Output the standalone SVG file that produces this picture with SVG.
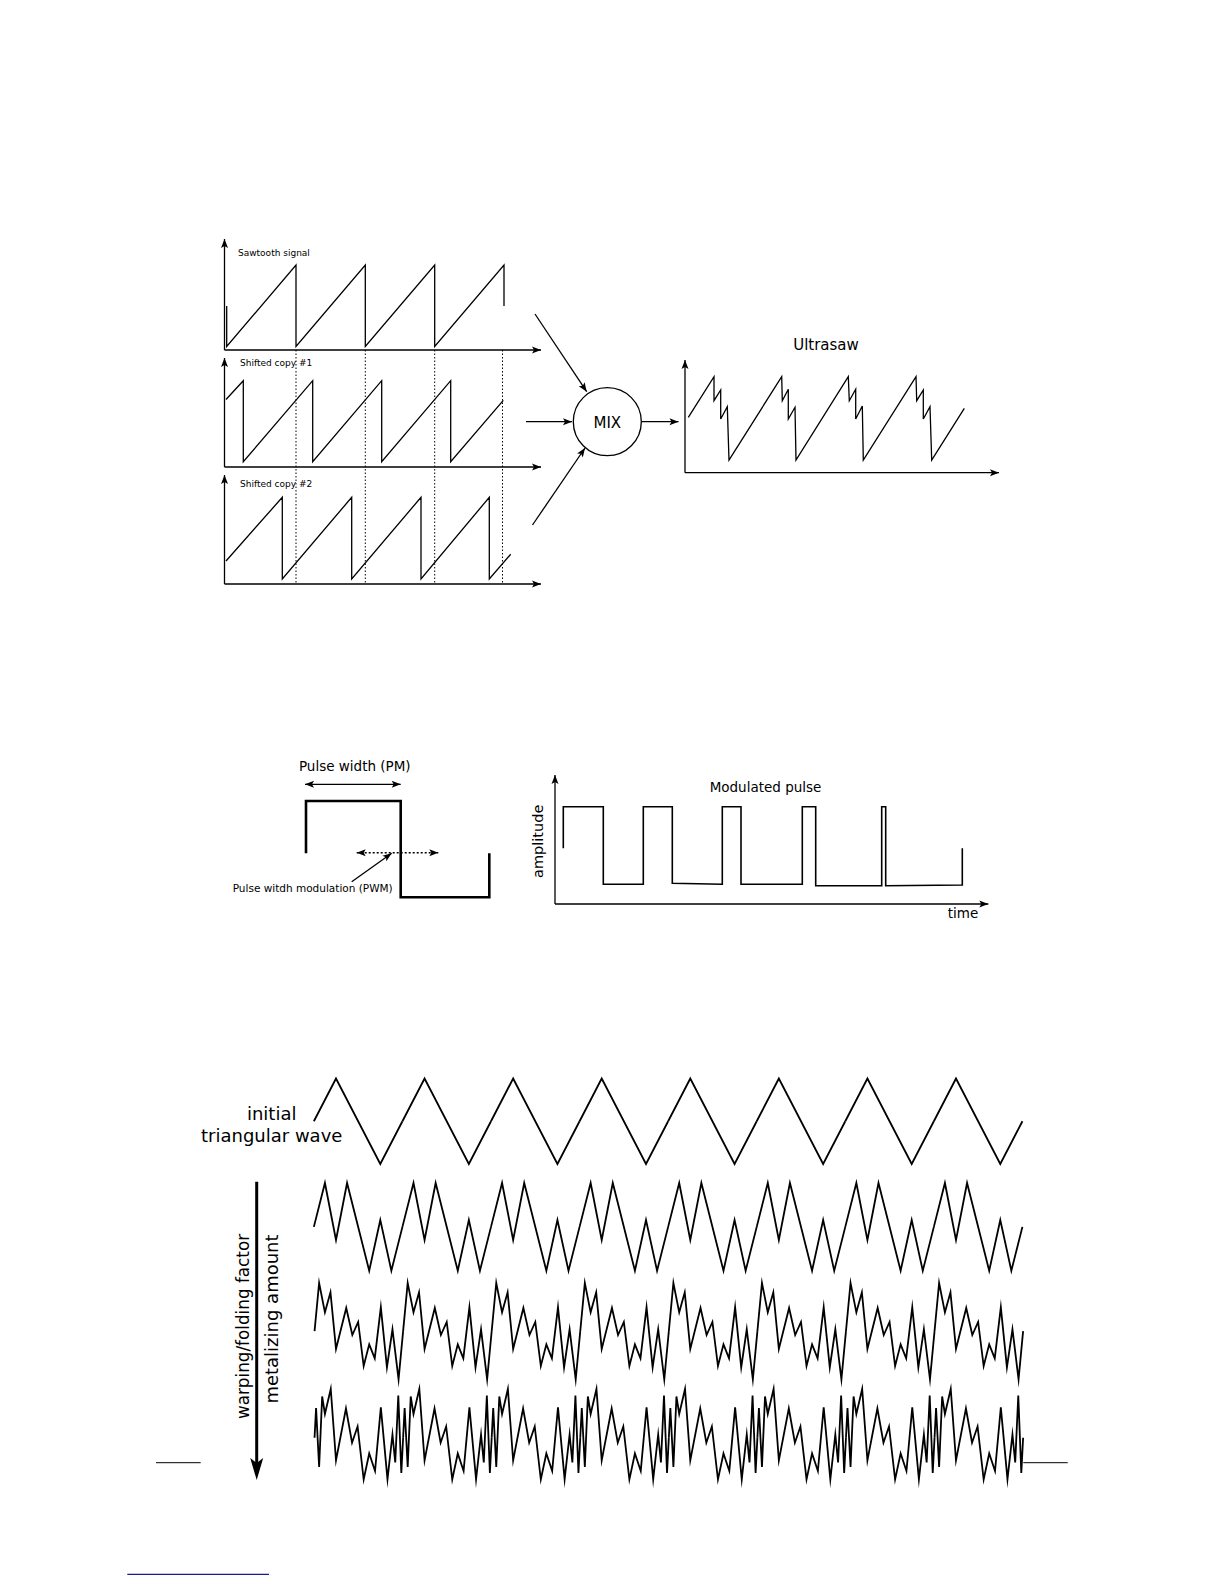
<svg xmlns="http://www.w3.org/2000/svg" width="1224" height="1584" viewBox="0 0 1224 1584">
<style>
 .ln{fill:none;stroke:#000;stroke-width:1.3;stroke-linejoin:miter}
 .ax{fill:none;stroke:#000;stroke-width:1.3;marker-end:url(#ah)}
 .arr{fill:none;stroke:#000;stroke-width:1.3;marker-end:url(#ah)}
 .dot{fill:none;stroke:#000;stroke-width:1;stroke-dasharray:1.5 2}
 .t{font-family:"DejaVu Sans","Liberation Sans",sans-serif;fill:#000}
 .wave{fill:none;stroke:#000;stroke-width:1.8;stroke-linejoin:miter;stroke-miterlimit:10}
</style>
<defs>
 <marker id="ah" viewBox="-10 -5 11 10" refX="0" refY="0" markerWidth="11" markerHeight="10" markerUnits="userSpaceOnUse" orient="auto-start-reverse">
  <path d="M0,0 L-9,-3.5 L-7,0 L-9,3.5 Z" fill="#000"/>
 </marker>
 <marker id="big" viewBox="-24 -8 26 16" refX="-14" refY="0" markerWidth="26" markerHeight="16" markerUnits="userSpaceOnUse" orient="auto">
  <path d="M0,0 L-22,-6.5 L-17,0 L-22,6.5 Z" fill="#000"/>
 </marker>
 <path id="r1" d="M-22.14,1121.25 L0,1078.5 L44.29,1164 L66.43,1121.25"/>
 <path id="r2" d="M-22.14,1226.85 L-11.07,1183 L0,1240 L11.07,1183 L33.21,1270.7 L44.29,1220 L55.36,1270.7 L66.43,1226.85"/>
 <path id="r3" d="M-21.45,1331.15 L-16.88,1283 L-11.07,1312.3 L-5.53,1292.3 L0,1349 L10.24,1308 L16.33,1335 L22.14,1322 L27.68,1366 L33.21,1344.3 L38.75,1358.3 L44.84,1307.3 L50.93,1367.3 L56.47,1329.3 L62.56,1379.3 L67.12,1331.15"/>
 <path id="r4" d="M-21.45,1437.8 L-19.93,1408 L-16.88,1467 L-13.84,1396.5 L-11.07,1414 L-5.25,1389 L0,1460.5 L9.96,1408.5 L16.05,1442.7 L21.59,1426.5 L27.68,1479.5 L33.21,1453.5 L39.03,1471 L44.84,1407.3 L51.48,1479.3 L56.47,1434.5 L59.23,1462.5 L62.28,1395.5 L65.32,1473 L67.12,1437.8"/>
</defs>

<!-- Ultrasaw construction -->
<g id="panel-sawtooth">
 <path class="ax" d="M224.5,350 V239"/>
 <path class="ax" d="M224.5,350 H541"/>
 <text class="t" x="238" y="256" font-size="9">Sawtooth signal</text>
 <path class="ln" d="M226.7,306 V346.5 L296,265 V346.5 L365.3,265 V346.5 L434.7,265 V346.5 L504,265 V306"/>
</g>
<g id="panel-copy1">
 <path class="ax" d="M224.5,467 V358"/>
 <path class="ax" d="M224.5,467 H541"/>
 <text class="t" x="240" y="366" font-size="9">Shifted copy #1</text>
 <path class="ln" d="M226,399.5 L243.3,380.7 V461.7 L312.7,380.7 V461.7 L381.7,380.7 V461.7 L450.7,380.7 V461.7 L503.3,400.3"/>
</g>
<g id="panel-copy2">
 <path class="ax" d="M224.5,584 V475"/>
 <path class="ax" d="M224.5,584 H541"/>
 <text class="t" x="240" y="486.7" font-size="9">Shifted copy #2</text>
 <path class="ln" d="M226,561 L282.3,497.3 V579 L351.7,497.3 V579 L421,497.3 V579 L489.3,497.3 V579 L510.7,554.3"/>
</g>
<g id="phase-guides">
 <path class="dot" d="M296,350 V584 M365.3,350 V584 M434.7,350 V584 M502.5,350 V584"/>
</g>
<g id="mix">
 <circle cx="607.3" cy="421.7" r="34" fill="none" stroke="#000" stroke-width="1.3"/>
 <text class="t" x="607.3" y="427.5" font-size="15" text-anchor="middle">MIX</text>
</g>
<g id="ultrasaw">
 <text class="t" x="826" y="350" font-size="15" text-anchor="middle">Ultrasaw</text>
 <path class="ax" d="M685,472.7 V360"/>
 <path class="ax" d="M685,472.7 H999"/>
 <path class="ln" d="M688.3,417.3 L714,376.7 L714,400.7 L720.7,390 L720.7,419 L727.3,406.7 L729,460 L781.7,376.7 L782.3,400.7 L788.3,389.3 L788.3,419 L795,407.3 L796,460 L848.3,376.7 L849.3,400.7 L855.7,389.3 L855.7,419 L862.3,406 L863.3,460 L916,376.7 L916.7,400.7 L923.3,390 L923.3,419 L930,406.7 L931.7,460 L964.3,408.3"/>
</g>
<g id="connectors">
 <path class="arr" d="M535,314 L586.7,391.7"/>
 <path class="arr" d="M526,421.7 H572"/>
 <path class="arr" d="M532.5,525 L585,448"/>
 <path class="arr" d="M641.7,421.7 H678.5"/>
</g>

<!-- Pulse width -->
<g id="pulse-width">
 <text class="t" x="354.8" y="770.7" font-size="13.5" text-anchor="middle">Pulse width (PM)</text>
 <path d="M305,784.3 H400.7" fill="none" stroke="#000" stroke-width="1.3" marker-start="url(#ah)" marker-end="url(#ah)"/>
 <path d="M306,853.3 V801 H400.7 V897.3 H489.3 V853.3" fill="none" stroke="#000" stroke-width="2.6"/>
 <path d="M356.7,852.7 H438.3" fill="none" stroke="#000" stroke-width="1.4" stroke-dasharray="2 2" marker-start="url(#ah)" marker-end="url(#ah)"/>
 <path class="arr" d="M351.7,881.7 L391.7,853.3"/>
 <text class="t" x="232.7" y="892.3" font-size="10.5">Pulse witdh modulation (PWM)</text>
</g>
<g id="modulated-pulse">
 <path class="ax" d="M555,904 V775"/>
 <path class="ax" d="M555,904 H988.3"/>
 <text class="t" x="765.5" y="792.3" font-size="13.5" text-anchor="middle">Modulated pulse</text>
 <text class="t" transform="translate(543.3,841.3) rotate(-90)" font-size="14.5" text-anchor="middle">amplitude</text>
 <text class="t" x="947.7" y="918.3" font-size="13.5">time</text>
 <path d="M563.3,848.3 V806.7 H603.3 V884.3 H643.3 V806.7 H672.3 V883.3 L722.3,884.3 V806.7 H741 V884.3 H802.3 V806.7 H815.7 V885.7 H881.7 V806.7 H885.7 V885.7 L962.3,885 V848.3" fill="none" stroke="#000" stroke-width="1.6"/>
</g>

<!-- Wave folding -->
<g id="label-initial">
 <text class="t" x="271.7" y="1120" font-size="18" text-anchor="middle">initial</text>
 <text class="t" x="271.7" y="1141.7" font-size="18" text-anchor="middle">triangular wave</text>
</g>
<g id="amount-axis">
 <path d="M256.7,1181.7 V1466" fill="none" stroke="#000" stroke-width="3" marker-end="url(#big)"/>
 <text class="t" transform="translate(249,1326.5) rotate(-90)" font-size="16.8" text-anchor="middle">warping/folding factor</text>
 <text class="t" transform="translate(278,1319) rotate(-90)" font-size="18" text-anchor="middle">metalizing amount</text>
</g>
<g id="wave-initial" class="wave">
 <use href="#r1" x="336"/><use href="#r1" x="424.57"/><use href="#r1" x="513.14"/><use href="#r1" x="601.71"/>
 <use href="#r1" x="690.28"/><use href="#r1" x="778.85"/><use href="#r1" x="867.42"/><use href="#r1" x="955.99"/>
</g>
<g id="wave-fold1" class="wave">
 <use href="#r2" x="336"/><use href="#r2" x="424.57"/><use href="#r2" x="513.14"/><use href="#r2" x="601.71"/>
 <use href="#r2" x="690.28"/><use href="#r2" x="778.85"/><use href="#r2" x="867.42"/><use href="#r2" x="955.99"/>
</g>
<g id="wave-fold2" class="wave">
 <use href="#r3" x="336"/><use href="#r3" x="424.57"/><use href="#r3" x="513.14"/><use href="#r3" x="601.71"/>
 <use href="#r3" x="690.28"/><use href="#r3" x="778.85"/><use href="#r3" x="867.42"/><use href="#r3" x="955.99"/>
</g>
<g id="wave-fold3" class="wave">
 <use href="#r4" x="336"/><use href="#r4" x="424.57"/><use href="#r4" x="513.14"/><use href="#r4" x="601.71"/>
 <use href="#r4" x="690.28"/><use href="#r4" x="778.85"/><use href="#r4" x="867.42"/><use href="#r4" x="955.99"/>
</g>
<g id="page-rules">
 <path d="M156,1462.7 H200.7 M1023.3,1462.7 H1067.7" stroke="#000" stroke-width="1"/>
 <path d="M127.3,1574.3 H269" stroke="#1a1a8c" stroke-width="1.3"/>
</g>
</svg>
